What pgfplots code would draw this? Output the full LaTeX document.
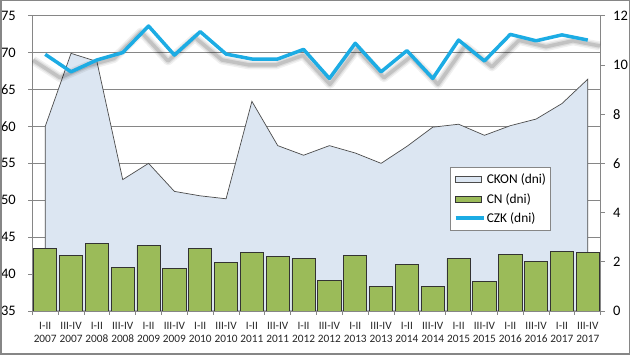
\documentclass[border=0pt]{standalone}
\usepackage{fontspec}
\setmainfont{Carlito}
\usepackage{pgfplots}
\usepackage{pgfplotstable}
\pgfplotsset{compat=1.18}
\definecolor{areafill}{RGB}{220,230,242}
\definecolor{bargreen}{RGB}{155,187,89}
\definecolor{czkblue}{RGB}{28,172,228}
\definecolor{gridgray}{RGB}{134,134,134}

\pgfplotstableread{
i ckon cn czk
0 60.0 43.43 10.43
1 69.9 42.49 9.72
2 68.8 44.10 10.20
3 52.8 40.86 10.50
4 55.0 43.84 11.58
5 51.2 40.81 10.40
6 50.6 43.51 11.35
7 50.2 41.62 10.44
8 63.4 42.89 10.24
9 57.4 42.35 10.24
10 56.1 42.08 10.63
11 57.4 39.11 9.45
12 56.4 42.49 10.88
13 55.0 38.30 9.72
14 57.3 41.35 10.58
15 59.9 38.30 9.45
16 60.3 42.08 11.01
17 58.8 39.00 10.16
18 60.1 42.62 11.24
19 61.0 41.68 10.98
20 63.1 43.03 11.22
21 66.4 42.89 11.01
}\data

\pgfplotsset{
  base/.style={
    scale only axis, width=568.4pt, height=295.3pt,
    at={(32.3pt,44pt)}, anchor=south west,
    xmin=-0.5, xmax=21.5,
    tick align=outside,
    axis line style={gridgray, line width=0.8pt},
    every tick/.style={gridgray, line width=0.8pt},
    /pgf/number format/assume math mode=true,
  }
}

\begin{document}
\begin{tikzpicture}
\fill[white] (0,0) rectangle (630pt,355pt);
\useasboundingbox (0,0) rectangle (630pt,355pt);
\begin{axis}[base,
  ymin=35, ymax=75, ytick={35,40,...,75},
  axis y line*=left, axis x line*=bottom,
  ymajorgrids, grid style={gridgray, line width=0.8pt},
  y tick label style={font=\fontsize{14.5}{14.5}\selectfont, xshift=-9pt},
  xtick={0,...,21},
  xticklabels={{I-II\\2007},{III-IV\\2007},{I-II\\2008},{III-IV\\2008},{I-II\\2009},{III-IV\\2009},{I-II\\2010},{III-IV\\2010},{I-II\\2011},{III-IV\\2011},{I-II\\2012},{III-IV\\2012},{I-II\\2013},{III-IV\\2013},{I-II\\2014},{III-IV\\2014},{I-II\\2015},{III-IV\\2015},{I-II\\2016},{III-IV\\2016},{I-II\\2017},{III-IV\\2017}},
  x tick label style={font=\fontsize{11.3}{13}\selectfont, align=center, text=black!85, yshift=-4pt},
  major x tick style={draw=none},
  minor xtick={-0.5,0.5,...,21.5},
  minor tick length=4pt,
  major tick length=4pt,
]
\addplot[fill=areafill, draw=black!70, line width=0.7pt] table[x=i, y=ckon] {\data} \closedcycle;
\addplot[ybar, bar width=0.9, fill=bargreen, draw=black!80, line width=0.8pt] table[x=i, y=cn] {\data};
\end{axis}
\begin{axis}[base,
  ymin=0, ymax=12, ytick={0,2,...,12},
  axis y line*=right, axis x line=none,
  y tick label style={font=\fontsize{14.5}{14.5}\selectfont, xshift=5pt},
  major tick length=4pt,
  legend style={at={(0.7355,0.4876)}, anchor=north west, draw=gridgray, line width=0.8pt,
    font=\fontsize{13.4}{13.4}\selectfont, row sep=5pt, inner xsep=3pt, inner ysep=5pt,
    nodes={inner sep=1.5pt, font=\fontsize{13.4}{13.4}\selectfont}},
  legend cell align=left,
]
\addlegendimage{legend image code/.code={\draw[fill=areafill, draw=black!70, line width=0.7pt] (0pt,-3pt) rectangle (26pt,3pt);}}
\addlegendentry{CKON (dni)}
\addlegendimage{legend image code/.code={\draw[fill=bargreen, draw=black!80, line width=0.7pt] (0pt,-3pt) rectangle (26pt,3pt);}}
\addlegendentry{CN (dni)}
\addlegendimage{legend image code/.code={\draw[czkblue, line width=3.5pt] (0pt,0pt) -- (28pt,0pt);}}
\addlegendentry{CZK (dni)}
\addplot[forget plot, black, opacity=0.06, line width=9pt, line join=round] table[x expr=10.5+(\thisrow{i}-10.5)*1.045, y expr=\thisrow{czk}-0.24] {\data};
\addplot[forget plot, black, opacity=0.08, line width=6pt, line join=round] table[x expr=10.5+(\thisrow{i}-10.5)*1.045, y expr=\thisrow{czk}-0.24] {\data};
\addplot[forget plot, black, opacity=0.12, line width=3.5pt, line join=round] table[x expr=10.5+(\thisrow{i}-10.5)*1.045, y expr=\thisrow{czk}-0.24] {\data};
\addplot[forget plot, czkblue, line width=3.5pt, line join=round] table[x=i, y=czk] {\data};
\end{axis}
\draw[gridgray, line width=1.5pt] (0.75pt,0.75pt) rectangle (629.25pt,354.25pt);
\end{tikzpicture}
\end{document}
